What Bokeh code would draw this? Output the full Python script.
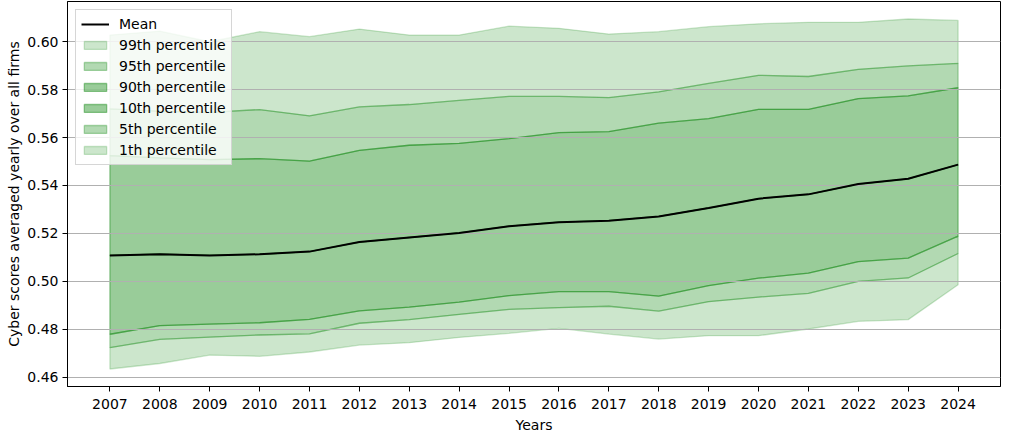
import numpy as np
from bokeh.plotting import figure
from bokeh.models import Range1d, FixedTicker, PrintfTickFormatter, Legend, LegendItem
from bokeh.embed import file_html
from bokeh.resources import INLINE

years = list(range(2007, 2025))
mean = [0.5108, 0.5113, 0.5108, 0.5113, 0.5124, 0.5164, 0.5183, 0.5202, 0.5230,
        0.5247, 0.5253, 0.5271, 0.5306, 0.5345, 0.5363, 0.5406, 0.5428, 0.5487]
p99 = [0.6028, 0.6044, 0.6000, 0.6042, 0.6021, 0.6053, 0.6028, 0.6028, 0.6065,
       0.6056, 0.6032, 0.6042, 0.6063, 0.6075, 0.6081, 0.6081, 0.6095, 0.6089]
p95 = [0.5720, 0.5710, 0.5705, 0.5717, 0.5691, 0.5728, 0.5738, 0.5755, 0.5772,
       0.5772, 0.5767, 0.5791, 0.5826, 0.5860, 0.5855, 0.5885, 0.5899, 0.5910]
p90 = [0.5525, 0.5515, 0.5508, 0.5512, 0.5502, 0.5547, 0.5568, 0.5576, 0.5596,
       0.5621, 0.5625, 0.5660, 0.5679, 0.5718, 0.5718, 0.5763, 0.5774, 0.5808]
p10 = [0.4779, 0.4815, 0.4821, 0.4827, 0.4841, 0.4877, 0.4892, 0.4913, 0.4940,
       0.4957, 0.4957, 0.4938, 0.4982, 0.5013, 0.5034, 0.5082, 0.5097, 0.5189]
p5 = [0.4723, 0.4758, 0.4767, 0.4776, 0.4781, 0.4825, 0.4840, 0.4862, 0.4883,
      0.4890, 0.4896, 0.4876, 0.4915, 0.4934, 0.4950, 0.5000, 0.5014, 0.5116]
p1 = [0.4634, 0.4657, 0.4692, 0.4687, 0.4705, 0.4734, 0.4744, 0.4766, 0.4783,
      0.4804, 0.4780, 0.4759, 0.4773, 0.4773, 0.4801, 0.4833, 0.4840, 0.4986]
y_ticks = [0.46, 0.48, 0.50, 0.52, 0.54, 0.56, 0.58, 0.60]

FONT = "DejaVu Sans"

x0, x1 = min(years), max(years)
xpad = (x1 - x0) * 0.05
ymin, ymax = min(p1), max(p99)
ypad = (ymax - ymin) * 0.05

p = figure(width=1002, height=435, output_backend="svg", toolbar_location=None,
           x_range=Range1d(x0 - xpad, x1 + xpad),
           y_range=Range1d(ymin - ypad, ymax + ypad),
           min_border_left=67, min_border_right=2, min_border_top=1, min_border_bottom=45)

p.outline_line_color = "black"
p.outline_line_width = 1
p.background_fill_color = "white"

bands = [
    (p95, p99, 0.2, "99th percentile"),
    (p90, p95, 0.3, "95th percentile"),
    (mean, p90, 0.4, "90th percentile"),
    (p10, mean, 0.4, "10th percentile"),
    (p5, p10, 0.3, "5th percentile"),
    (p1, p5, 0.2, "1th percentile"),
]
xs = np.array(years, dtype=float)
band_items = []
for lo, hi, a, lab in bands:
    px = np.concatenate([xs, xs[::-1]])
    py = np.concatenate([np.array(lo), np.array(hi)[::-1]])
    r = p.patch(px, py, fill_color="green", fill_alpha=a,
                line_color="green", line_alpha=a, line_width=1.3)
    band_items.append(LegendItem(label=lab, renderers=[r]))

mean_r = p.line(years, mean, line_color="black", line_width=2)
mean_r.level = "guide"

p.ygrid.grid_line_color = "#b0b0b0"
p.ygrid.grid_line_width = 1
p.ygrid.level = "glyph"
p.xgrid.grid_line_color = None

p.xaxis.ticker = FixedTicker(ticks=years)
p.yaxis.ticker = FixedTicker(ticks=y_ticks)
p.yaxis.formatter = PrintfTickFormatter(format="%.2f")
for ax in (p.xaxis, p.yaxis):
    ax.minor_tick_line_color = None
    ax.major_tick_out = 5
    ax.major_tick_in = 0
    ax.major_tick_line_color = "black"
    ax.axis_line_color = "black"
    ax.major_label_text_font = FONT
    ax.major_label_text_font_size = "14px"
    ax.major_label_text_color = "black"
    ax.axis_label_text_font = FONT
    ax.axis_label_text_font_size = "14px"
    ax.axis_label_text_font_style = "normal"
    ax.axis_label_text_color = "black"
p.xaxis.major_label_standoff = 7
p.yaxis.major_label_standoff = 4
p.xaxis.axis_label = "Years"
p.yaxis.axis_label = "Cyber scores averaged yearly over all firms"
p.xaxis.axis_label_standoff = 5
p.yaxis.axis_label_standoff = 2

legend = Legend(items=[LegendItem(label="Mean", renderers=[mean_r])] + band_items,
                location="top_left")
legend.label_text_font = FONT
legend.label_text_font_size = "14px"
legend.label_text_color = "black"
legend.glyph_width = 28
legend.glyph_height = 10
legend.label_height = 18
legend.spacing = 3
legend.label_standoff = 10
legend.padding = 5
legend.margin = 8
legend.background_fill_alpha = 0.8
legend.border_line_color = "#cccccc"
legend.border_line_alpha = 0.8
p.add_layout(legend)

open("out.html", "w").write(file_html(p, INLINE))
